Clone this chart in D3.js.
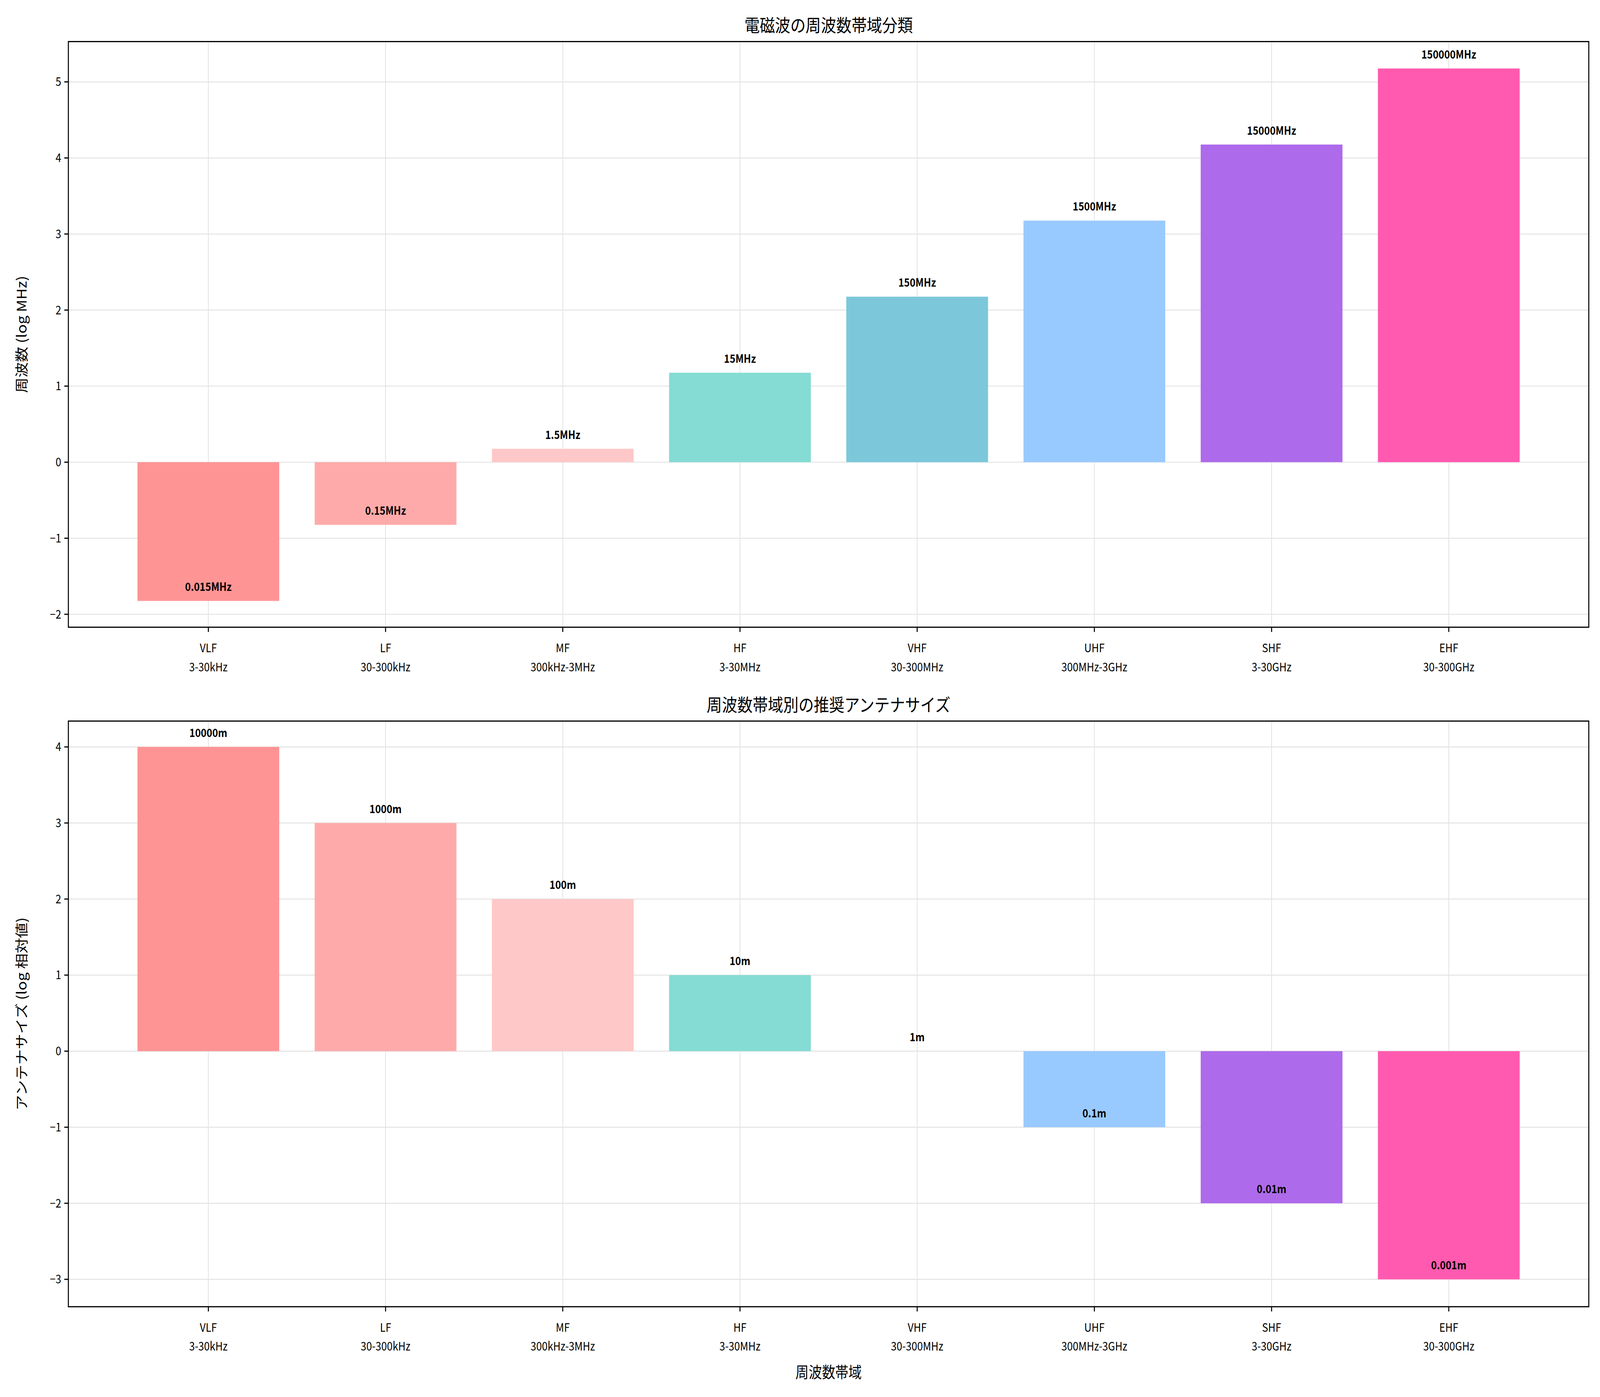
<!DOCTYPE html>
<html><head><meta charset="utf-8">
<script src="https://cdn.jsdelivr.net/npm/d3@7"></script>
<style>html,body{margin:0;padding:0;background:#fff;overflow:hidden}#chart{display:block;width:100vw;height:100vh}text{font-family:"Noto Sans CJK JP","DejaVu Sans",sans-serif}</style>
</head><body>
<svg id="chart" viewBox="0 0 1568 1176" preserveAspectRatio="none"></svg>
<script>
// band names and ranges
const bands = ['VLF', 'LF', 'MF', 'HF', 'VHF', 'UHF', 'SHF', 'EHF'];
const ranges = ['3-30kHz', '30-300kHz', '300kHz-3MHz', '3-30MHz', '30-300MHz', '300MHz-3GHz', '3-30GHz', '30-300GHz'];
const freqMHz = [0.015, 0.15, 1.5, 15, 150, 1500, 15000, 150000];
const antennaM = [10000, 1000, 100, 10, 1, 0.1, 0.01, 0.001];
const colors = ['#ff9494', '#ffaaaa', '#ffc8c8', '#84dcd4', '#7cc8da', '#99caff', '#ad6aea', '#ff5aaf'];

const svg = d3.select('#chart');
svg.append('rect').attr('width', 1568).attr('height', 1176).attr('fill', '#fff');

function panel(top, bottom, vals, labelFn, yDomain, yTicks, title, ylabel) {
  const left = 67, right = 1557;
  const x = d3.scaleLinear().domain([-0.79, 7.79]).range([left, right]);
  const y = d3.scaleLinear().domain(yDomain).range([bottom, top]);
  const g = svg.append('g');
  const logs = vals.map(v => Math.log10(v));

  // grid
  g.selectAll('.gy').data(yTicks).enter().append('line')
    .attr('x1', left).attr('x2', right).attr('y1', d => y(d)).attr('y2', d => y(d))
    .attr('stroke', '#e3e3e3').attr('stroke-width', 0.8);
  g.selectAll('.gx').data(bands).enter().append('line')
    .attr('x1', (d, i) => x(i)).attr('x2', (d, i) => x(i)).attr('y1', top).attr('y2', bottom)
    .attr('stroke', '#e3e3e3').attr('stroke-width', 0.8);

  // bars
  g.selectAll('.bar').data(logs).enter().append('rect')
    .attr('x', (d, i) => x(i - 0.4)).attr('width', x(0.8) - x(0))
    .attr('y', d => y(Math.max(0, d))).attr('height', d => Math.abs(y(d) - y(0)))
    .attr('fill', (d, i) => colors[i]);

  // value labels
  g.selectAll('.lbl').data(logs).enter().append('text')
    .attr('x', (d, i) => x(i)).attr('y', d => y(d + 0.1) - 2)
    .attr('text-anchor', 'middle').attr('font-size', 9.5).attr('font-weight', 'bold')
    .text((d, i) => labelFn(vals[i]));

  // frame
  g.append('rect').attr('x', left).attr('y', top).attr('width', right - left).attr('height', bottom - top)
    .attr('fill', 'none').attr('stroke', '#000').attr('stroke-width', 1);

  // y ticks
  yTicks.forEach(t => {
    g.append('line').attr('x1', left - 4).attr('x2', left).attr('y1', y(t)).attr('y2', y(t)).attr('stroke', '#000');
    g.append('text').attr('x', left - 7).attr('y', y(t) + 3.5).attr('text-anchor', 'end')
      .attr('font-size', 10).text(t < 0 ? '\u2212' + Math.abs(t) : t);
  });
  // x ticks
  bands.forEach((b, i) => {
    g.append('line').attr('x1', x(i)).attr('x2', x(i)).attr('y1', bottom).attr('y2', bottom + 4).attr('stroke', '#000');
    g.append('text').attr('x', x(i)).attr('y', bottom + 21).attr('text-anchor', 'middle').attr('font-size', 10).text(b);
    g.append('text').attr('x', x(i)).attr('y', bottom + 37).attr('text-anchor', 'middle').attr('font-size', 10).text(ranges[i]);
  });

  g.append('text').attr('x', (left + right) / 2).attr('y', top - 8).attr('text-anchor', 'middle')
    .attr('font-size', 15).text(title);
  g.append('text').attr('transform', `translate(26,${(top + bottom) / 2}) rotate(-90)`)
    .attr('text-anchor', 'middle').attr('font-size', 13).text(ylabel);
}

panel(35, 528, freqMHz, v => v + 'MHz', [-2.17, 5.53], [-2, -1, 0, 1, 2, 3, 4, 5],
  '電磁波の周波数帯域分類', '周波数 (log MHz)');
panel(607, 1100, antennaM, v => v + 'm', [-3.36, 4.34], [-3, -2, -1, 0, 1, 2, 3, 4],
  '周波数帯域別の推奨アンテナサイズ', 'アンテナサイズ (log 相対値)');

svg.append('text').attr('x', 812).attr('y', 1160).attr('text-anchor', 'middle').attr('font-size', 13).text('周波数帯域');
</script>
</body></html>
